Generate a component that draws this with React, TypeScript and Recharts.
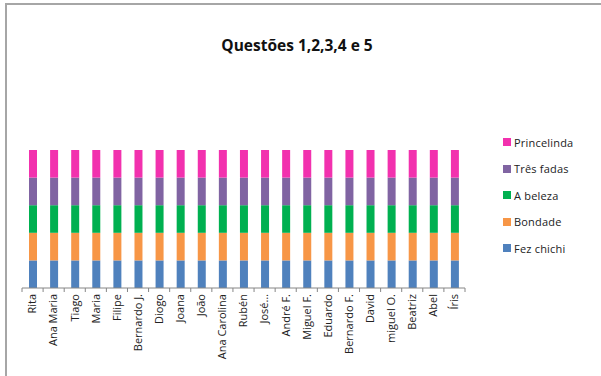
import React from 'react';
import { BarChart, Bar, XAxis, YAxis, Legend } from 'recharts';

const names = [
  'Rita', 'Ana Maria', 'Tiago', 'Maria', 'Filipe', 'Bernardo J.', 'Diogo', 'Joana', 'João',
  'Ana Carolina', 'Rubén', 'José…', 'André F.', 'Miguel F.', 'Eduardo', 'Bernardo F.', 'David',
  'miguel O.', 'Beatriz', 'Abel', 'Íris',
];
const fezChichi = [1, 1, 1, 1, 1, 1, 1, 1, 1, 1, 1, 1, 1, 1, 1, 1, 1, 1, 1, 1, 1];
const bondade = [1, 1, 1, 1, 1, 1, 1, 1, 1, 1, 1, 1, 1, 1, 1, 1, 1, 1, 1, 1, 1];
const aBeleza = [1, 1, 1, 1, 1, 1, 1, 1, 1, 1, 1, 1, 1, 1, 1, 1, 1, 1, 1, 1, 1];
const tresFadas = [1, 1, 1, 1, 1, 1, 1, 1, 1, 1, 1, 1, 1, 1, 1, 1, 1, 1, 1, 1, 1];
const princelinda = [1, 1, 1, 1, 1, 1, 1, 1, 1, 1, 1, 1, 1, 1, 1, 1, 1, 1, 1, 1, 1];

const series = [
  { key: 'Fez chichi', values: fezChichi, color: '#4F81BD' },
  { key: 'Bondade', values: bondade, color: '#F79646' },
  { key: 'A beleza', values: aBeleza, color: '#00B050' },
  { key: 'Três fadas', values: tresFadas, color: '#8064A2' },
  { key: 'Princelinda', values: princelinda, color: '#F231AE' },
];

const data = names.map((name, i) => {
  const row: { [k: string]: any } = { name };
  series.forEach(s => { row[s.key] = s.values[i]; });
  return row;
});

const FONT = '"Open Sans", sans-serif';

const NameTick = (props: any) => {
  const { x, y, payload, index } = props;
  const half = payload && payload.offset ? payload.offset : 10.55;
  const axisY = y - 6;
  return (
    <g>
      <line x1={x - half} x2={x - half} y1={axisY} y2={axisY + 4} stroke="#868686" />
      {index === names.length - 1 && (
        <line x1={x + half} x2={x + half} y1={axisY} y2={axisY + 4} stroke="#868686" />
      )}
      <text
        x={x}
        y={y}
        dy="0.35em"
        textAnchor="end"
        transform={`rotate(-90, ${x}, ${y})`}
        fontSize={11}
        fontFamily={FONT}
        fill="#222"
      >
        {payload.value}
      </text>
    </g>
  );
};

// legend lists the series top-down in reverse stacking order
const LegendBox = () => {
  const items = [...series].reverse();
  return (
    <div style={{ width: 100 }}>
      {items.map(it => (
        <div key={it.key} style={{ display: 'flex', alignItems: 'center', height: 26.5 }}>
          <span style={{ width: 8, height: 8, background: it.color, marginRight: 3 }} />
          <span style={{ fontFamily: FONT, fontSize: 11, color: '#222', letterSpacing: 0.2 }}>{it.key}</span>
        </div>
      ))}
    </div>
  );
};

export default function App() {
  return (
    <div style={{ position: 'absolute', left: 0, top: 0, width: 601, height: 376, background: '#fff', overflow: 'hidden' }}>
      <div style={{ position: 'absolute', left: 5, top: 3, width: 620, height: 400, borderLeft: '2px solid #a6a6a6', borderTop: '2px solid #a6a6a6' }} />
      <div style={{ position: 'absolute', left: 0, top: 34, width: 594, textAlign: 'center', fontFamily: FONT, fontWeight: 700, fontSize: 15.5, color: '#111' }}>
        Questões 1,2,3,4 e 5
      </div>
      <BarChart
        width={601}
        height={376}
        data={data}
        margin={{ top: 150, right: 36, left: 22, bottom: 0 }}
        barSize={8}
        style={{ position: 'absolute', left: 0, top: 0 }}
      >
        <XAxis
          dataKey="name"
          interval={0}
          height={88}
          tickLine={false}
          tickSize={4}
          tickMargin={2}
          stroke="#868686"
          tick={<NameTick />}
        />
        <YAxis hide domain={[0, 5]} />
        <Legend
          layout="vertical"
          align="right"
          verticalAlign="top"
          content={<LegendBox />}
          wrapperStyle={{ left: 503, top: 129, width: 100 }}
        />
        {series.map(s => (
          <Bar key={s.key} dataKey={s.key} stackId="a" fill={s.color} isAnimationActive={false} />
        ))}
      </BarChart>
    </div>
  );
}
